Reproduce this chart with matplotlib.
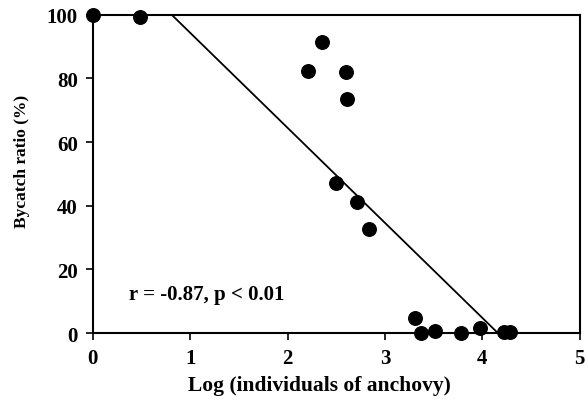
import matplotlib

matplotlib.use("Agg")

import matplotlib.pyplot as plt

# log(individuals of anchovy) vs bycatch ratio (%)
log_anchovy = [0.0, 0.48, 2.35, 2.21, 2.60, 2.61, 2.50, 2.71, 2.84,
               3.31, 3.37, 3.51, 3.78, 3.98, 4.22, 4.28]
bycatch_ratio = [100.0, 99.4, 91.4, 82.5, 82.0, 73.6, 47.1, 41.3, 32.7,
                 4.7, 0.2, 0.7, 0.0, 1.6, 0.5, 0.5]

# regression line endpoints, clipped to the 0-100 range
fit_x = [0.81, 4.16]
fit_y = [100.0, 0.0]

x_ticks = [0, 1, 2, 3, 4, 5]
y_ticks = [0, 20, 40, 60, 80, 100]
stat_label = "r = -0.87, p < 0.01"

plt.rcParams["font.family"] = ["Liberation Serif", "DejaVu Serif"]
plt.rcParams["font.weight"] = "bold"

fig = plt.figure(figsize=(5.88, 4.06), dpi=100)
ax = fig.add_axes([0.158, 0.177, 0.828, 0.784])

ax.plot(fit_x, fit_y, color="black", linewidth=1.3)
ax.scatter(log_anchovy, bycatch_ratio, s=95, color="black", zorder=3, clip_on=False)

ax.set_xlim(0, 5)
ax.set_ylim(0, 100)
ax.set_xticks(x_ticks)
ax.set_yticks(y_ticks)
ax.tick_params(direction="out", length=5, width=1.2, labelsize=15, pad=6)
for lab in ax.get_xticklabels() + ax.get_yticklabels():
    lab.set_fontweight("bold")
for sp in ax.spines.values():
    sp.set_linewidth(1.5)

ax.text(0.37, 12.3, stat_label, fontsize=15, fontweight="bold", va="center")
ax.set_xlabel("Log (individuals of anchovy)", fontsize=15.5, fontweight="bold")
ax.set_ylabel("Bycatch ratio (%)", fontsize=12.5, fontweight="bold")
ax.xaxis.set_label_coords(0.466, -0.133)
ax.yaxis.set_label_coords(-0.129, 0.541)

fig.savefig("out.png", dpi=100)
